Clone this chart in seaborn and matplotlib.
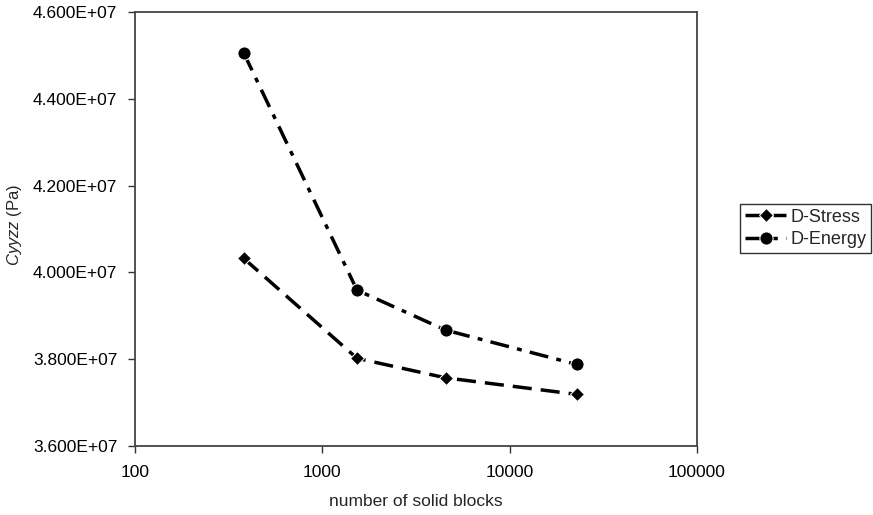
import pandas as pd
import seaborn as sns
import matplotlib.pyplot as plt
from matplotlib.ticker import FuncFormatter, NullLocator

# values
blocks = [380, 1530, 4550, 22800]
d_stress = [4.032e7, 3.802e7, 3.757e7, 3.719e7]
d_energy = [4.505e7, 3.959e7, 3.867e7, 3.788e7]
series_names = ['D-Stress', 'D-Energy']
y_ticks = [3.6e7, 3.8e7, 4.0e7, 4.2e7, 4.4e7, 4.6e7]
x_ticks = [100, 1000, 10000, 100000]

df = pd.DataFrame({
    'blocks': blocks * 2,
    'value': d_stress + d_energy,
    'series': [series_names[0]] * len(blocks) + [series_names[1]] * len(blocks),
})

sns.set_style('white')
plt.rcParams['font.family'] = ['Liberation Sans', 'DejaVu Sans']
plt.rcParams['mathtext.fontset'] = 'custom'
plt.rcParams['mathtext.it'] = 'Liberation Sans:italic'
plt.rcParams['mathtext.rm'] = 'Liberation Sans'

fig = plt.figure(figsize=(8.73, 5.15), dpi=100)
ax = fig.add_axes([0.155, 0.134, 0.643, 0.843])

styles = {
    'D-Stress': dict(marker='D', markersize=7, dashes=(5.5, 2.6)),
    'D-Energy': dict(marker='o', markersize=9.5, dashes=(5.5, 2.4, 1.4, 2.4)),
}
for name in series_names:
    sub = df[df['series'] == name]
    sns.lineplot(data=sub, x='blocks', y='value', ax=ax, color='black',
                 linewidth=2.5, label=name, **styles[name])

ax.set_xscale('log')
ax.set_xlim(100, 100000)
ax.set_ylim(3.6e7, 4.6e7)
ax.set_xticks(x_ticks)
ax.set_xticklabels([str(t) for t in x_ticks])
ax.xaxis.set_minor_locator(NullLocator())
ax.set_yticks(y_ticks)
ax.yaxis.set_major_formatter(FuncFormatter(lambda v, p: f'{v:.3E}'))

ax.tick_params(axis='both', direction='out', length=5, width=1, colors='#333333',
               labelcolor='black', labelsize=12.5, bottom=True, left=True)
ax.tick_params(axis='x', pad=9)
ax.tick_params(axis='y', pad=8)
for s in ax.spines.values():
    s.set_color('#444444')
    s.set_linewidth(1.3)

ax.set_xlabel('number of solid blocks', fontsize=12.5, labelpad=10)
ax.set_ylabel(r'$\it{Cyyzz}$ (Pa)', fontsize=12)
ax.yaxis.set_label_coords(-0.198, 0.51)

leg = ax.legend(loc='center left', bbox_to_anchor=(1.078, 0.501), frameon=True,
                fancybox=False, edgecolor='black', fontsize=13, handlelength=2.3,
                handletextpad=0.2, borderpad=0.25, labelspacing=0.3, borderaxespad=0)
leg.get_frame().set_linewidth(1.0)

fig.savefig('out.png', dpi=100)
